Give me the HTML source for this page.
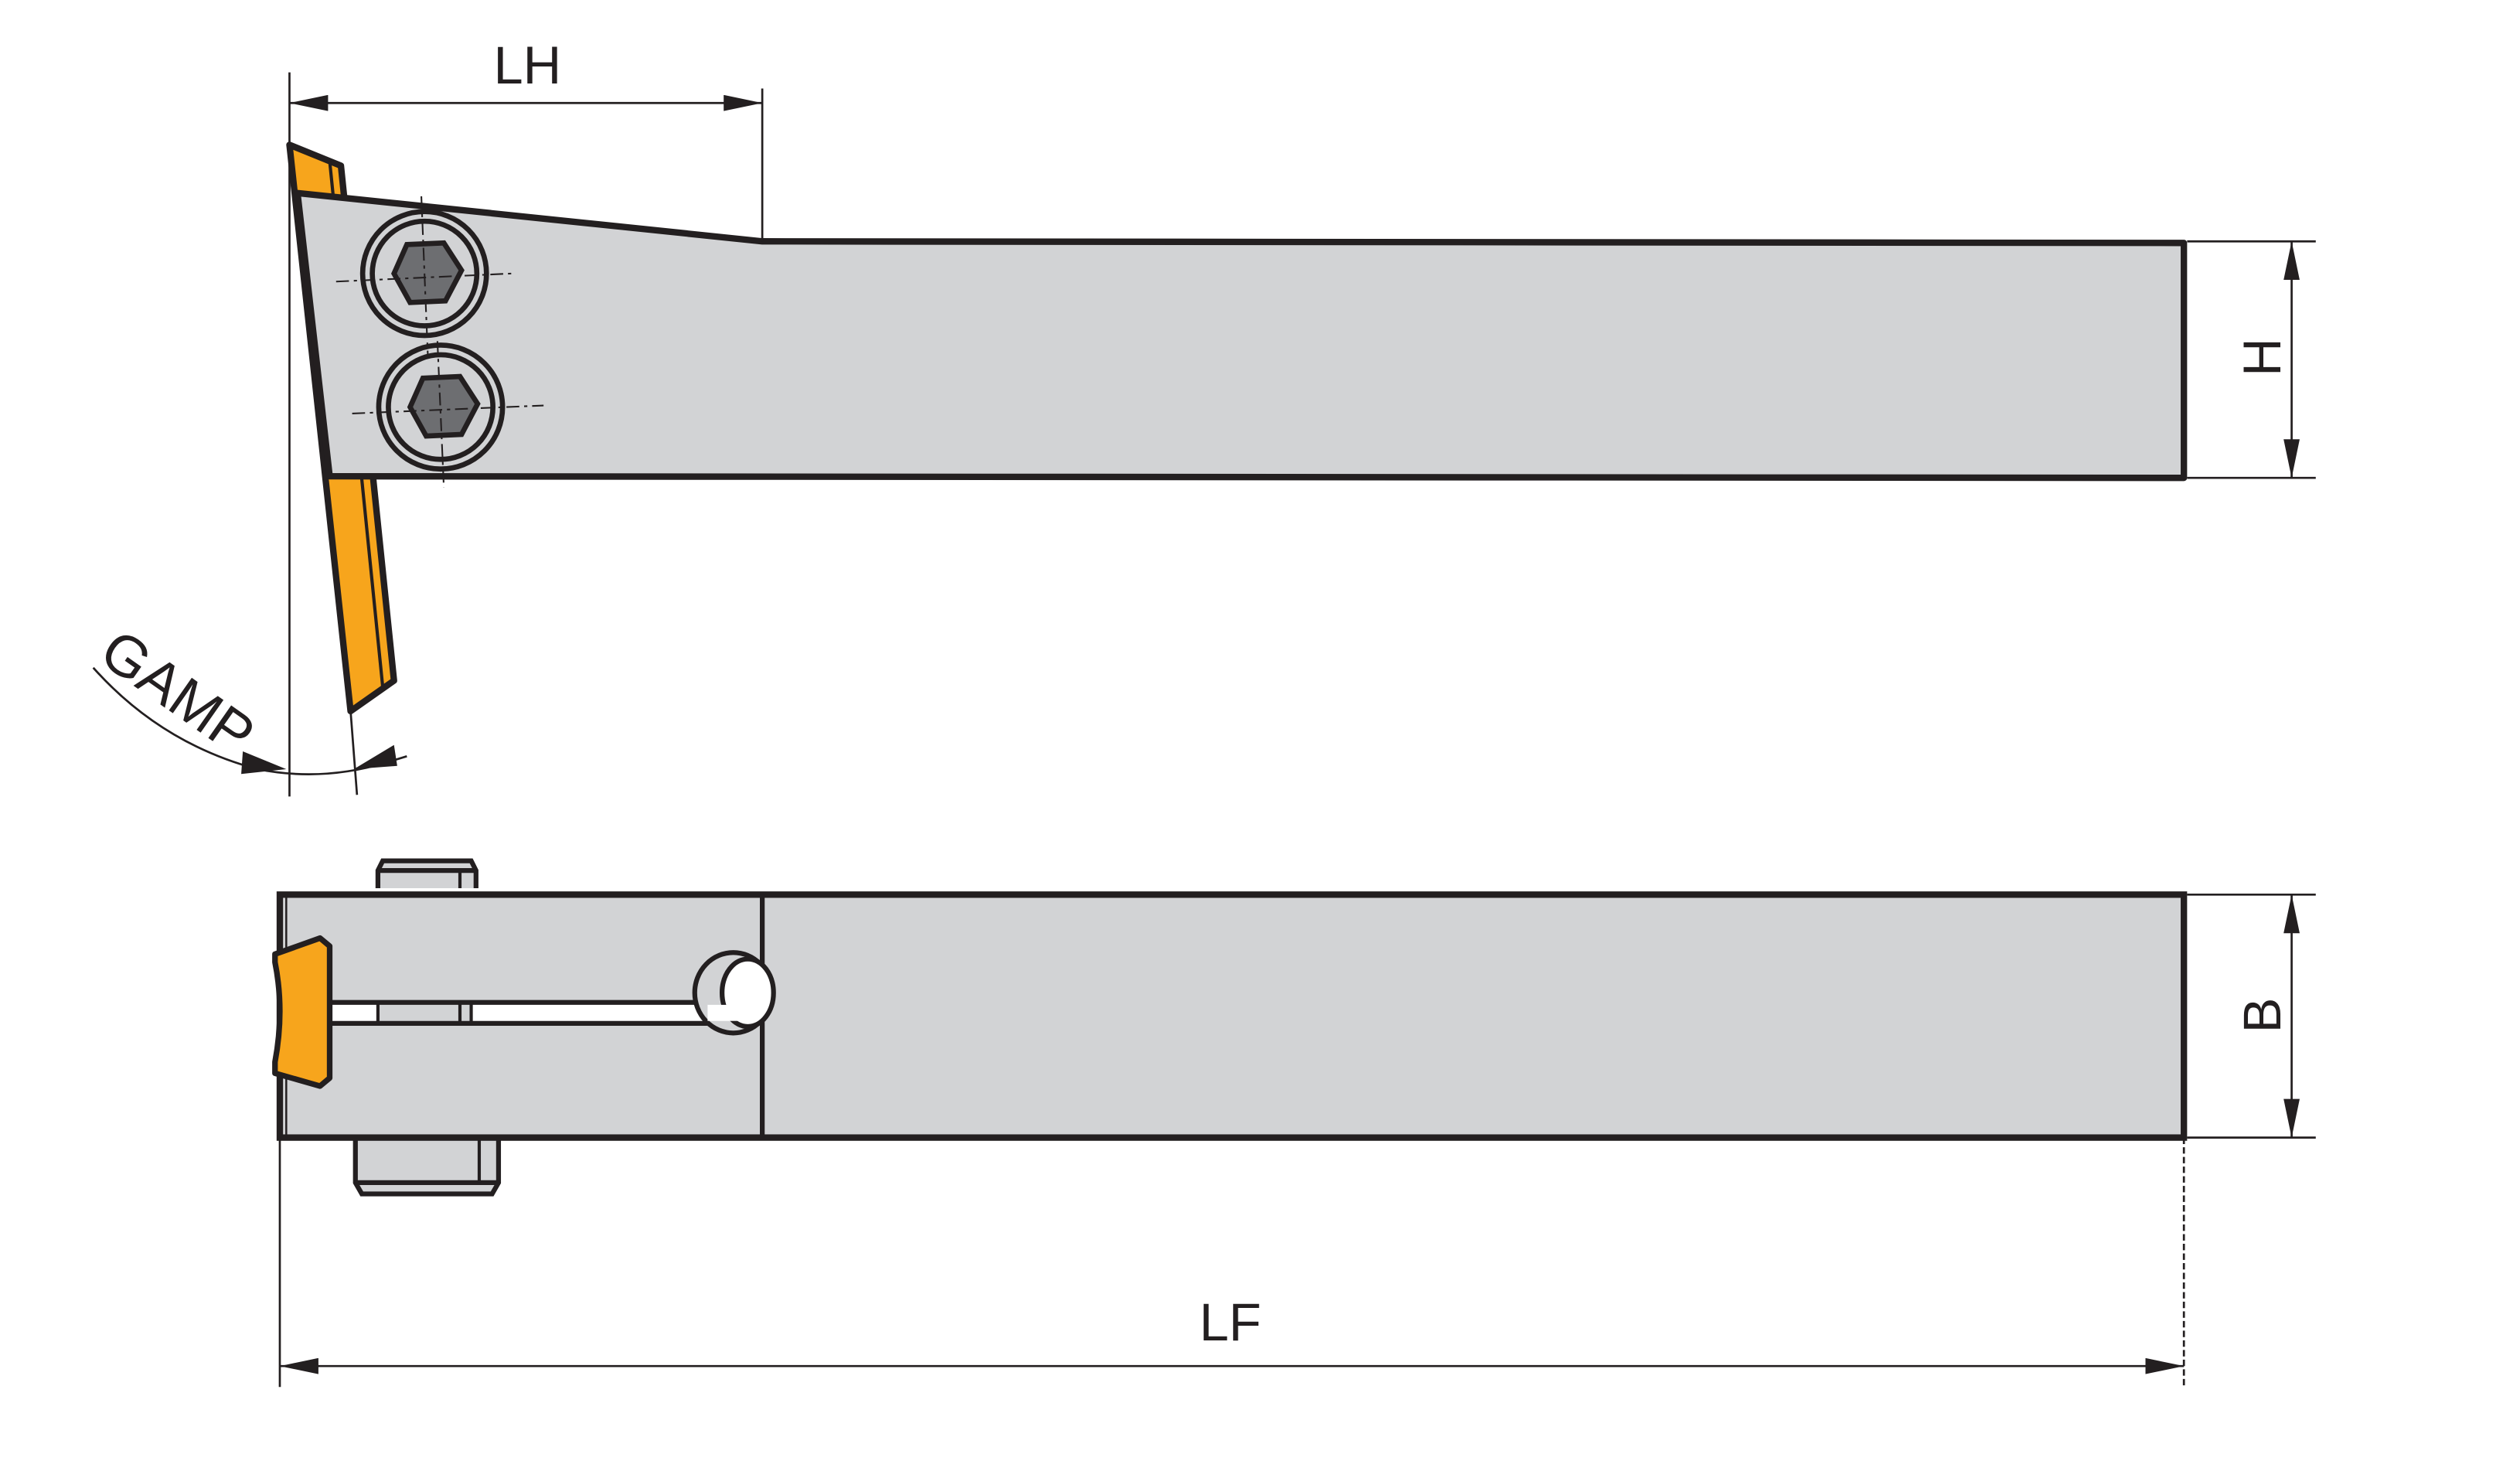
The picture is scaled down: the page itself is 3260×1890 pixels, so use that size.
<!DOCTYPE html>
<html><head><meta charset="utf-8"><style>html,body{margin:0;padding:0;background:#fff}svg{display:block}</style></head>
<body>
<svg width="3260" height="1890" viewBox="0 0 1567 908" preserveAspectRatio="none" xmlns="http://www.w3.org/2000/svg" font-family="Liberation Sans, sans-serif">
<defs>
<marker id="ar" viewBox="0 0 24 10" refX="24" refY="5" markerWidth="24" markerHeight="10" markerUnits="userSpaceOnUse" orient="auto-start-reverse"><path d="M0,0 L24,5 L0,10 z" fill="#231f20"/></marker>
</defs>
<g stroke="#231f20" fill="none">
<polygon points="180,90 212,103 245,423 218,442" fill="#f7a51c" stroke-width="4" stroke-linejoin="round"/>
<line x1="205" y1="100" x2="238" y2="427" stroke-width="2"/>
<polygon points="185,120 474,150 1358,151 1358,297 205,296" fill="#d2d3d5" stroke-width="4" stroke-linejoin="round"/>
<g stroke-width="3.2">
<circle cx="264" cy="170" r="38.5" fill="#d2d3d5"/><circle cx="264" cy="170" r="32.5"/>
<polygon points="253,152 276,151 287,168 277,187 255,188 245,170" fill="#6d6e71"/>
<circle cx="274" cy="253" r="38.5" fill="#d2d3d5"/><circle cx="274" cy="253" r="32.5"/>
<polygon points="263,235 286,234 297,251 287,270 265,271 255,253" fill="#6d6e71"/>
</g>
<g stroke-width="1" stroke-dasharray="8,3,2,3">
<line x1="209" y1="175" x2="318" y2="170"/><line x1="262" y1="122" x2="266" y2="220"/>
<line x1="219" y1="257" x2="338" y2="252"/><line x1="272" y1="212" x2="276" y2="303"/>
</g>
<g stroke-width="1.3">
<line x1="180" y1="45" x2="180" y2="495"/>
<line x1="474" y1="55" x2="474" y2="150"/>
<line x1="180" y1="64" x2="474" y2="64" marker-start="url(#ar)" marker-end="url(#ar)"/>
<line x1="1360" y1="150" x2="1440" y2="150"/>
<line x1="1360" y1="297" x2="1440" y2="297"/>
<line x1="1425" y1="150" x2="1425" y2="297" marker-start="url(#ar)" marker-end="url(#ar)"/>
<line x1="218" y1="442" x2="222" y2="494"/>
<path d="M58,415 Q100,462 160,478"/>
<path d="M160,478 Q200,486 240,474 L253,470"/>
</g>
<polygon points="150,481 178,478 151,467" fill="#231f20" stroke="none"/>
<polygon points="247,476 220,478 245,463" fill="#231f20" stroke="none"/>

<path d="M235,552 L235,541 L238,535 L293,535 L296,541 L296,552" fill="#d2d3d5" stroke-width="3"/>
<line x1="235" y1="541" x2="296" y2="541" stroke-width="3"/>
<line x1="286" y1="541" x2="286" y2="552" stroke-width="2"/>
<path d="M221,707 L221,735 L225,742 L306,742 L310,735 L310,707" fill="#d2d3d5" stroke-width="3"/>
<line x1="221" y1="735" x2="310" y2="735" stroke-width="3"/>
<line x1="298" y1="707" x2="298" y2="735" stroke-width="2"/>
<rect x="174" y="556" width="1184" height="151" fill="#d2d3d5" stroke-width="4"/>
<line x1="474" y1="556" x2="474" y2="707" stroke-width="3"/>
<line x1="178" y1="556" x2="178" y2="707" stroke-width="1.2"/>
<rect x="205" y="623" width="245" height="13" fill="#fff" stroke="none"/>
<rect x="235" y="623" width="58" height="13" fill="#d2d3d5" stroke-width="2"/>
<line x1="286" y1="623" x2="286" y2="636" stroke-width="2"/>
<line x1="205" y1="623" x2="450" y2="623" stroke-width="3"/>
<line x1="205" y1="636" x2="450" y2="636" stroke-width="3"/>
<ellipse cx="456" cy="617" rx="24" ry="25" fill="#d2d3d5" stroke-width="3"/>
<ellipse cx="465" cy="617" rx="16" ry="21" fill="#fff" stroke-width="3"/>
<rect x="440" y="624.5" width="22" height="10" fill="#fff" stroke="none"/>
<path d="M171,593 L199,583 L205,588 L205,670 L199,675 L171,667 L171,660 Q177,628 171,598 Z" fill="#f7a51c" stroke-width="3.5" stroke-linejoin="round"/>
<g stroke-width="1.3">
<line x1="1360" y1="556" x2="1440" y2="556"/>
<line x1="1360" y1="707" x2="1440" y2="707"/>
<line x1="1425" y1="556" x2="1425" y2="707" marker-start="url(#ar)" marker-end="url(#ar)"/>
<line x1="174" y1="707" x2="174" y2="862"/>
<line x1="1358" y1="707" x2="1358" y2="862" stroke-dasharray="4,2"/>
<line x1="174" y1="849" x2="1358" y2="849" marker-start="url(#ar)" marker-end="url(#ar)"/>
</g>
</g>
<g fill="#231f20" font-size="33">
<text x="328" y="52" text-anchor="middle">LH</text>
<text x="765" y="833" text-anchor="middle">LF</text>
<text transform="translate(1418,222) rotate(-90)" text-anchor="middle">H</text>
<text transform="translate(1418,631) rotate(-90)" text-anchor="middle">B</text>
<text transform="translate(60,410) rotate(35)" font-size="36">GAMP</text>
</g>
</svg>
</body></html>
